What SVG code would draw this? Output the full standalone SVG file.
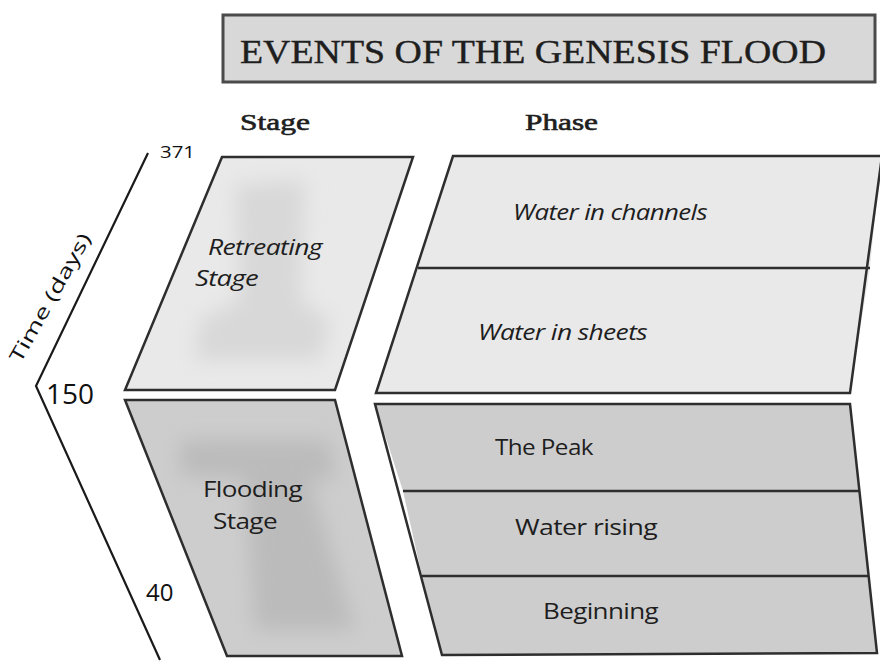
<svg xmlns="http://www.w3.org/2000/svg" width="880" height="664" viewBox="0 0 880 664">
<defs>
<style>
.edge{stroke:#2e2e2e;stroke-width:2.5;stroke-linejoin:miter;}
.light{fill:#e9e9e9;}
.dark{fill:#cdcdcd;}
.lbl{font-family:"Open Sans","Noto Sans",sans-serif;font-size:21px;fill:#1e1e1e;letter-spacing:-0.5px;}
.it{font-style:italic;}
.serif{font-family:"Liberation Serif","DejaVu Serif",serif;fill:#1e1e1e;}
.num{font-family:"Open Sans","Noto Sans",sans-serif;fill:#111;}
</style>
<filter id="blur" x="-50%" y="-50%" width="200%" height="200%"><feGaussianBlur stdDeviation="10"/></filter>
<clipPath id="cRet"><polygon points="222,157 413,157 335,390 125,390"/></clipPath>
<clipPath id="cFl"><polygon points="125,400 335,400 402,656 227,656"/></clipPath>
</defs>
<rect width="880" height="664" fill="#ffffff"/>

<g id="title">
<rect x="223" y="15" width="652" height="67" fill="#d8d8d8" stroke="#4a4a4a" stroke-width="3"/>
<text class="serif" x="240" y="63" font-size="34" stroke="#1e1e1e" stroke-width="0.4" textLength="586" lengthAdjust="spacingAndGlyphs">EVENTS OF THE GENESIS FLOOD</text>
</g>

<g id="headers">
<text class="serif" x="240" y="130" font-size="23" stroke="#1e1e1e" stroke-width="0.6" textLength="70" lengthAdjust="spacingAndGlyphs">Stage</text>
<text class="serif" x="525" y="130" font-size="23" stroke="#1e1e1e" stroke-width="0.6" textLength="73" lengthAdjust="spacingAndGlyphs">Phase</text>
</g>

<g id="axis" fill="none" stroke="#1a1a1a" stroke-width="2.2">
<polyline points="148,153 36,386 160,660"/>
<text class="num" x="160" y="158" font-size="17" stroke="none" fill="#111" textLength="35" lengthAdjust="spacingAndGlyphs">371</text>
<text class="num" x="46" y="404" font-size="28" stroke="none" fill="#111">150</text>
<text class="num" x="146" y="601" font-size="24" stroke="none" fill="#111">40</text>
<text class="num" x="0" y="0" font-size="19" stroke="none" fill="#222" text-anchor="middle" textLength="145" lengthAdjust="spacingAndGlyphs" transform="translate(56,301) rotate(-60.5)">Time (days)</text>
</g>

<g id="stage-retreating">
<polygon class="light" points="222,157 413,157 335,390 125,390"/>
<g clip-path="url(#cRet)" filter="url(#blur)">
<path d="M235,185 L305,180 L300,300 L330,320 L320,360 L195,360 L200,320 L240,300 Z" fill="#d8d8d8"/>
</g>
<polygon class="edge" fill="none" points="222,157 413,157 335,390 125,390"/>
<text class="lbl it" x="208" y="255" textLength="114" lengthAdjust="spacingAndGlyphs">Retreating</text>
<text class="lbl it" x="195" y="286" textLength="63" lengthAdjust="spacingAndGlyphs">Stage</text>
</g>

<g id="stage-flooding">
<polygon class="dark" points="125,400 335,400 402,656 227,656"/>
<g clip-path="url(#cFl)" filter="url(#blur)">
<path d="M180,440 L330,440 L335,480 L310,480 L355,630 L255,630 L245,480 L180,475 Z" fill="#bbbbbb"/>
</g>
<polygon class="edge" fill="none" points="125,400 335,400 402,656 227,656"/>
<text class="lbl" x="203" y="497" textLength="99" lengthAdjust="spacingAndGlyphs">Flooding</text>
<text class="lbl" x="213" y="529" textLength="64" lengthAdjust="spacingAndGlyphs">Stage</text>
</g>

<g id="phase-channels">
<polygon class="light" points="453,156 881,156 870,268 418,268"/>
<text class="lbl it" x="513" y="220" textLength="194" lengthAdjust="spacingAndGlyphs">Water in channels</text>
</g>
<g id="phase-sheets">
<polygon class="light" points="418,268 870,268 850,393 376,393"/>
<text class="lbl it" x="478" y="340" textLength="169" lengthAdjust="spacingAndGlyphs">Water in sheets</text>
</g>
<g id="phase-retreating-frame">
<polygon class="edge" fill="none" points="453,156 882,156 850,393 376,393"/>
<line class="edge" x1="418" y1="268" x2="870" y2="268"/>
</g>

<g id="phase-peak">
<polygon class="dark" points="375,404 850,404 860,491 403,491"/>
<text class="lbl" x="495" y="455" textLength="98" lengthAdjust="spacingAndGlyphs">The Peak</text>
</g>
<g id="phase-rising">
<polygon class="dark" points="403,491 860,491 869,576 422,576"/>
<text class="lbl" x="515" y="535" textLength="142" lengthAdjust="spacingAndGlyphs">Water rising</text>
</g>
<g id="phase-beginning">
<polygon class="dark" points="422,576 869,576 877,653 442,655"/>
<text class="lbl" x="543" y="619" textLength="115" lengthAdjust="spacingAndGlyphs">Beginning</text>
</g>
<g id="phase-flooding-frame">
<polygon class="edge" fill="none" points="375,404 850,404 877,653 442,655"/>
<line class="edge" x1="403" y1="491" x2="860" y2="491"/>
<line class="edge" x1="422" y1="576" x2="869" y2="576"/>
</g>
</svg>
